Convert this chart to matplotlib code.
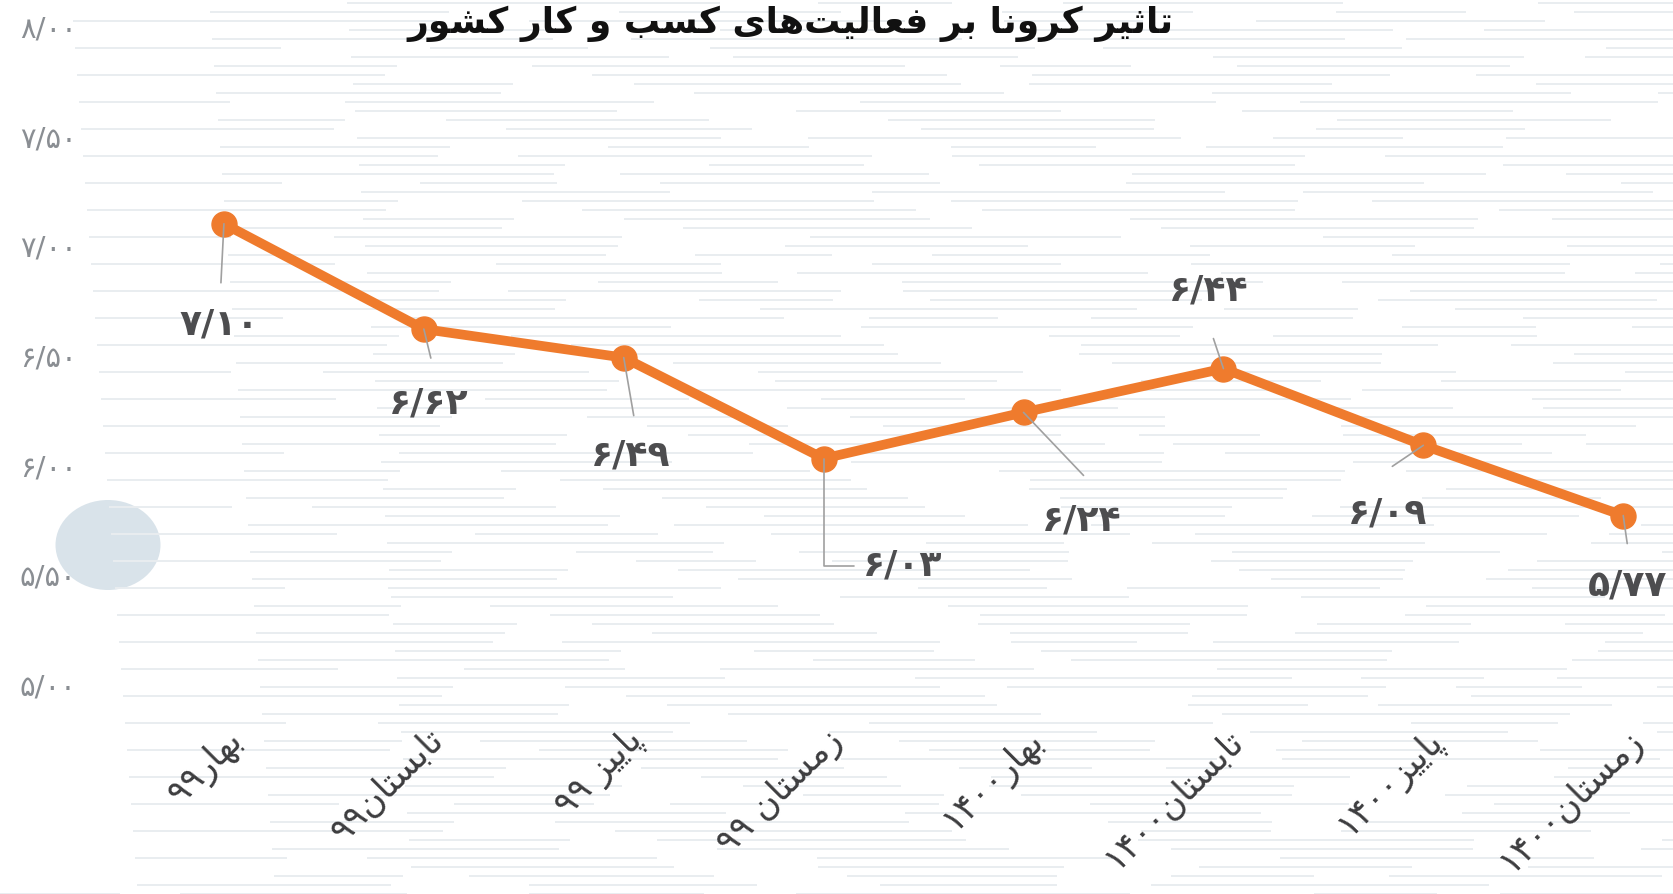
import re
import matplotlib
matplotlib.use("Agg")
import matplotlib.pyplot as plt
from matplotlib.collections import LineCollection
from matplotlib.patches import Ellipse
import numpy as np

# ---------------- data ----------------
categories = ["بهار۹۹", "تابستان۹۹", "پاییز ۹۹", "زمستان ۹۹",
              "بهار۱۴۰۰", "تابستان۱۴۰۰", "پاییز۱۴۰۰", "زمستان۱۴۰۰"]
values = [7.10, 6.62, 6.49, 6.03, 6.24, 6.44, 6.09, 5.77]
value_labels = ["۷/۱۰", "۶/۶۲", "۶/۴۹", "۶/۰۳", "۶/۲۴", "۶/۴۴", "۶/۰۹", "۵/۷۷"]
yticks = [5.0, 5.5, 6.0, 6.5, 7.0, 7.5, 8.0]
ytick_labels = ["۵/۰۰", "۵/۵۰", "۶/۰۰", "۶/۵۰", "۷/۰۰", "۷/۵۰", "۸/۰۰"]
title = "تاثیر کرونا بر فعالیت‌های کسب و کار کشور"

# ---------------- minimal Persian shaping ----------------
FORMS = {  # isolated, final, initial, medial
    'ا': ('\uFE8D', '\uFE8E', None, None),
    'آ': ('\uFE81', '\uFE82', None, None),
    'ب': ('\uFE8F', '\uFE90', '\uFE91', '\uFE92'),
    'پ': ('\uFB56', '\uFB57', '\uFB58', '\uFB59'),
    'ت': ('\uFE95', '\uFE96', '\uFE97', '\uFE98'),
    'ث': ('\uFE99', '\uFE9A', '\uFE9B', '\uFE9C'),
    'ج': ('\uFE9D', '\uFE9E', '\uFE9F', '\uFEA0'),
    'ح': ('\uFEA1', '\uFEA2', '\uFEA3', '\uFEA4'),
    'خ': ('\uFEA5', '\uFEA6', '\uFEA7', '\uFEA8'),
    'د': ('\uFEA9', '\uFEAA', None, None),
    'ذ': ('\uFEAB', '\uFEAC', None, None),
    'ر': ('\uFEAD', '\uFEAE', None, None),
    'ز': ('\uFEAF', '\uFEB0', None, None),
    'ژ': ('\uFB8A', '\uFB8B', None, None),
    'س': ('\uFEB1', '\uFEB2', '\uFEB3', '\uFEB4'),
    'ش': ('\uFEB5', '\uFEB6', '\uFEB7', '\uFEB8'),
    'ع': ('\uFEC9', '\uFECA', '\uFECB', '\uFECC'),
    'ف': ('\uFED1', '\uFED2', '\uFED3', '\uFED4'),
    'ک': ('\uFB8E', '\uFB8F', '\uFB90', '\uFB91'),
    'گ': ('\uFB92', '\uFB93', '\uFB94', '\uFB95'),
    'ل': ('\uFEDD', '\uFEDE', '\uFEDF', '\uFEE0'),
    'م': ('\uFEE1', '\uFEE2', '\uFEE3', '\uFEE4'),
    'ن': ('\uFEE5', '\uFEE6', '\uFEE7', '\uFEE8'),
    'و': ('\uFEED', '\uFEEE', None, None),
    'ه': ('\uFEE9', '\uFEEA', '\uFEEB', '\uFEEC'),
    'ی': ('\uFBFC', '\uFBFD', '\uFBFE', '\uFBFF'),
}


def shape(text):
    out = []
    n = len(text)
    for i, ch in enumerate(text):
        if ch == '\u200c':
            continue
        if ch not in FORMS:
            out.append(ch)
            continue
        f = FORMS[ch]
        prev = text[i - 1] if i > 0 else ''
        nxt = text[i + 1] if i + 1 < n else ''
        join_prev = prev in FORMS and FORMS[prev][2] is not None
        join_next = f[2] is not None and nxt in FORMS
        if join_prev and join_next:
            out.append(f[3])
        elif join_prev:
            out.append(f[1])
        elif join_next:
            out.append(f[2])
        else:
            out.append(f[0])
    s = ''.join(out)
    runs = re.findall(r'[\u06F0-\u06F90-9/.]+|[^\u06F0-\u06F90-9/.]+', s)
    vis = []
    for r in reversed(runs):
        if re.match(r'[\u06F0-\u06F90-9/.]', r):
            vis.append(r)
        else:
            vis.append(r[::-1])
    return ''.join(vis)


# ---------------- figure ----------------
W, H, DPI = 1673, 894, 100
fig = plt.figure(figsize=(W / DPI, H / DPI), dpi=DPI, facecolor='white')

# faint sketch-like horizontal streak texture in the background
bg = fig.add_axes([0, 0, 1, 1], zorder=-10)
bg.set_xlim(0, 1)
bg.set_ylim(0, 1)
bg.axis('off')
segs = []
rows = np.arange(0, 1, 9 / H)
for k, yy in enumerate(rows):
    start = ((k * 137) % 413) / W
    while start < 1:
        length = (((k * 53 + int(start * 997)) % 260) + 120) / W
        segs.append([(start, yy), (min(start + length, 1), yy)])
        start += length + (((k * 31 + int(start * 577)) % 150) + 60) / W
bg.add_collection(LineCollection(segs, colors='#e9edf0', linewidths=1.4))
bg.add_patch(Ellipse((108 / W, 1 - 545 / H), 105 / W, 90 / H, color='#d9e3ea', lw=0))

ax = fig.add_axes([85 / W, 0, 1 - 85 / W, 1])
ax.patch.set_alpha(0)

x = np.arange(len(values))
ax.set_xlim(-0.695, 7.249)
ax.set_ylim(4.045, 8.12)

ORANGE = '#EF7B2D'
ax.plot(x, values, color=ORANGE, lw=7, marker='o', ms=18, solid_capstyle='round',
        zorder=3)

# leader lines and value labels (offsets in pixels)
label_off = [(-5, -101), (5, -74), (7, -98), (79, -107), (58, -108), (-15, 78), (-36, -68), (4, -70)]
leader_off = [(-3, -59), (7, -29), (10, -58), None, (60, -63), (-10, 30), (-31, -21), (4, -28)]
LEAD = '#a0a0a0'
for i, (xi, v) in enumerate(zip(x, values)):
    if leader_off[i] is not None:
        ax.annotate('', xy=(xi, v), xytext=leader_off[i], textcoords='offset pixels',
                    arrowprops=dict(arrowstyle='-', color=LEAD, lw=1.2, shrinkA=0, shrinkB=0),
                    zorder=4)
    else:
        ax.annotate('', xy=(xi, v), xytext=(30, -107), textcoords='offset pixels',
                    arrowprops=dict(arrowstyle='-', color=LEAD, lw=1.2, shrinkA=0, shrinkB=0,
                                    connectionstyle='angle,angleA=0,angleB=90,rad=0'),
                    zorder=4)
    ax.annotate(shape(value_labels[i]), xy=(xi, v), xytext=label_off[i],
                textcoords='offset pixels', ha='center', va='center',
                fontsize=26, fontweight='bold', color='#4d4d4f',
                family='DejaVu Sans', zorder=5)

# y ticks
ax.set_yticks(yticks)
ax.set_yticklabels([shape(t) for t in ytick_labels], fontsize=21, color='#8a8e93',
                   family='DejaVu Sans')
ax.tick_params(axis='y', length=0, pad=6)

# x labels (rotated)
ax.set_xticks([])
for i, c in enumerate(categories):
    ax.text(x[i] + 0.07, 4.77, shape(c), rotation=45, rotation_mode='anchor',
            ha='right', va='center', fontsize=25, color='#3d3d3f',
            family='DejaVu Sans')

for s in ax.spines.values():
    s.set_visible(False)
ax.grid(False)

# title at the top edge
fig.text(790 / W, 1 - 6 / H, shape(title), ha='center', va='top',
         fontsize=26, fontweight='bold', color='#111111', family='DejaVu Sans')

fig.savefig('out.png', dpi=DPI, facecolor='white')
